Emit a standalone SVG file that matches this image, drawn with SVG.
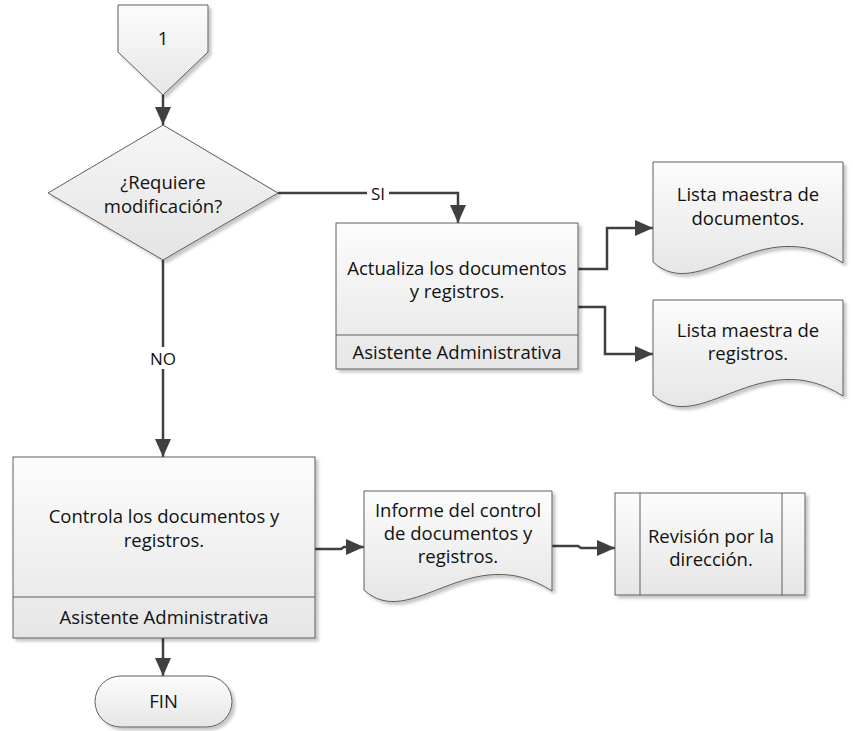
<svg xmlns="http://www.w3.org/2000/svg" width="853" height="731" viewBox="0 0 853 731">
  <defs>
    <linearGradient id="fillGrad" x1="0" y1="0" x2="0" y2="1">
      <stop offset="0" stop-color="#fcfcfc"/>
      <stop offset="1" stop-color="#e6e6e6"/>
    </linearGradient>
    <linearGradient id="diamondGrad" x1="0" y1="0" x2="0" y2="1">
      <stop offset="0" stop-color="#f6f6f6"/>
      <stop offset="1" stop-color="#e4e4e4"/>
    </linearGradient>
    <filter id="shadow" x="-10%" y="-10%" width="125%" height="130%">
      <feDropShadow dx="3" dy="3" stdDeviation="1.5" flood-color="#000000" flood-opacity="0.22"/>
    </filter>
    <marker id="arrow" markerUnits="userSpaceOnUse" markerWidth="19" markerHeight="17" refX="18" refY="8" orient="auto">
      <path d="M0,0 L18,8 L0,16 Z" fill="#404040"/>
    </marker>
  </defs>
  <style>
    .shape { fill: url(#fillGrad); stroke: #5e5e5e; stroke-width: 1; filter: url(#shadow); }
    .diamond { fill: url(#diamondGrad); stroke: #5e5e5e; stroke-width: 1; filter: url(#shadow); }
    .divider { fill: none; stroke: #5e5e5e; stroke-width: 1; }
    .conn { fill: none; stroke: #404040; stroke-width: 2.5; }
    .arrowed { marker-end: url(#arrow); }
    .label { font-family: "Open Sans", "Liberation Sans", sans-serif; font-size: 18.5px; fill: #111111; text-anchor: middle; }
    .small { font-size: 17px; }
    .bg { fill: #ffffff; }
  </style>

  <!-- connectors -->
  <g id="connectors">
    <path class="conn arrowed" d="M163,95 V125"/>
    <path class="conn arrowed" d="M278,193 H458 V223"/>
    <path class="conn arrowed" d="M163,260 V457"/>
    <path class="conn arrowed" d="M578,269 H607 V228 H653"/>
    <path class="conn arrowed" d="M578,307 H605 V354 H653"/>
    <path class="conn arrowed" d="M163,638 V676"/>
    <path class="conn arrowed" d="M315,549 H341 L344,547 H364"/>
    <path class="conn arrowed" d="M552,546 H578 L581,548 H615"/>
    <rect class="bg" x="367" y="184" width="22" height="18"/>
    <text class="label small" x="378" y="200">SI</text>
    <rect class="bg" x="149" y="347" width="29" height="22"/>
    <text class="label small" x="163" y="365">NO</text>
  </g>

  <!-- off-page reference -->
  <g id="connector1">
    <polygon class="shape" points="118,5 208,5 208,52 163,95 118,52"/>
    <text class="label" x="163" y="45">1</text>
  </g>

  <!-- decision -->
  <g id="decision">
    <polygon class="diamond" points="163,125 278,193 163,260 48,193"/>
    <text class="label" x="163" y="189">¿Requiere</text>
    <text class="label" x="163" y="213">modificación?</text>
  </g>

  <!-- process: update -->
  <g id="actualiza">
    <rect class="shape" x="336" y="223" width="242" height="146"/>
    <line class="divider" x1="336" y1="335" x2="578" y2="335"/>
    <text class="label" x="457" y="275">Actualiza los documentos</text>
    <text class="label" x="457" y="298">y registros.</text>
    <text class="label" x="457" y="359">Asistente Administrativa</text>
  </g>

  <!-- document: master list of documents -->
  <g id="lista-documentos">
    <path class="shape" d="M653,162 H843 V263 C760,210 700,305 653,262 Z"/>
    <text class="label" x="748" y="201">Lista maestra de</text>
    <text class="label" x="748" y="225">documentos.</text>
  </g>

  <!-- document: master list of records -->
  <g id="lista-registros">
    <path class="shape" d="M653,300 H843 V396 C760,343 700,438 653,395 Z"/>
    <text class="label" x="748" y="337">Lista maestra de</text>
    <text class="label" x="748" y="360">registros.</text>
  </g>

  <!-- process: control -->
  <g id="controla">
    <rect class="shape" x="13" y="457" width="302" height="181"/>
    <line class="divider" x1="13" y1="597" x2="315" y2="597"/>
    <text class="label" x="164" y="523">Controla los documentos y</text>
    <text class="label" x="164" y="547">registros.</text>
    <text class="label" x="164" y="624">Asistente Administrativa</text>
  </g>

  <!-- document: report -->
  <g id="informe">
    <path class="shape" d="M364,491 H552 V591 C470,538 411,633 364,590 Z"/>
    <text class="label" x="458" y="517">Informe del control</text>
    <text class="label" x="458" y="540">de documentos y</text>
    <text class="label" x="458" y="563">registros.</text>
  </g>

  <!-- predefined process -->
  <g id="revision">
    <rect class="shape" x="615" y="493" width="190" height="102"/>
    <line class="divider" x1="640" y1="493" x2="640" y2="595"/>
    <line class="divider" x1="782" y1="493" x2="782" y2="595"/>
    <text class="label" x="711" y="543">Revisión por la</text>
    <text class="label" x="711" y="566">dirección.</text>
  </g>

  <!-- terminator -->
  <g id="fin">
    <rect class="shape" x="95" y="676" width="137" height="51" rx="25.5" ry="25.5"/>
    <text class="label" x="163.5" y="708">FIN</text>
  </g>
</svg>
